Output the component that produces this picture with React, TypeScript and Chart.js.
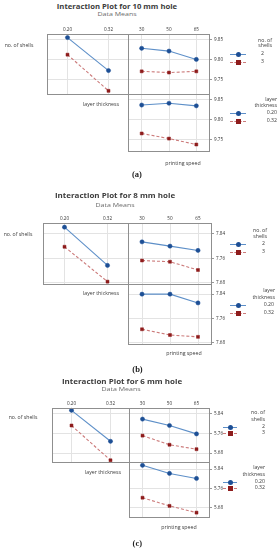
import React, { useEffect, useLayoutEffect, useRef, useState } from "react";
import { Chart, registerables } from "chart.js";
Chart.register(...registerables);

// ---------- data ----------
const layerLabels = ["0.20", "0.32"];
const speedLabels = ["30", "50", "65"];
const shellNames = ["2", "3"];
const layerNames = ["0.20", "0.32"];

// 10 mm hole
const a_shells2_vsLayer = [9.856, 9.773];
const a_shells3_vsLayer = [9.813, 9.722];
const a_shells2_vsSpeed = [9.829, 9.822, 9.801];
const a_shells3_vsSpeed = [9.771, 9.768, 9.771];
const a_layer020_vsSpeed = [9.837, 9.8415, 9.835];
const a_layer032_vsSpeed = [9.765, 9.752, 9.737];
const a_yTicks = [9.75, 9.8, 9.85];

// 8 mm hole
const b_shells2_vsLayer = [7.862, 7.737];
const b_shells3_vsLayer = [7.798, 7.684];
const b_shells2_vsSpeed = [7.814, 7.8, 7.786];
const b_shells3_vsSpeed = [7.753, 7.749, 7.722];
const b_layer020_vsSpeed = [7.84, 7.84, 7.811];
const b_layer032_vsSpeed = [7.724, 7.705, 7.699];
const b_yTicks = [7.68, 7.76, 7.84];

// 6 mm hole
const c_shells2_vsLayer = [5.8535, 5.728];
const c_shells3_vsLayer = [5.792, 5.651];
const c_shells2_vsSpeed = [5.818, 5.792, 5.758];
const c_shells3_vsSpeed = [5.751, 5.714, 5.696];
const c_layer020_vsSpeed = [5.8556, 5.822, 5.801];
const c_layer032_vsSpeed = [5.721, 5.687, 5.659];
const c_yTicks = [5.68, 5.76, 5.84];

// ---------- styles ----------
const BLUE_LINE = "#5d8fc8";
const BLUE_PT = "#1d4f95";
const RED_LINE = "#cc7b7b";
const RED_PT = "#8e1c1c";
const FONT = '"Open Sans", "DejaVu Sans", sans-serif';

type Area = { l: number; t: number; r: number; b: number };

const boxPlugin = {
  id: "box",
  afterDraw(chart: any) {
    const { ctx, chartArea: a } = chart;
    ctx.save();
    ctx.strokeStyle = "#8f8f8f";
    ctx.lineWidth = 1;
    ctx.strokeRect(
      Math.round(a.left) + 0.5,
      Math.round(a.top) + 0.5,
      Math.round(a.right - a.left) - 1,
      Math.round(a.bottom - a.top) - 1
    );
    ctx.restore();
  },
};

function zeroPad(s: any) {
  s.paddingTop = 0;
  s.paddingBottom = 0;
  s.paddingLeft = 0;
  s.paddingRight = 0;
}

function Panel(props: {
  area: Area;
  labels: string[];
  blue: number[];
  red: number[];
  yMin: number;
  yMax: number;
  yTicks: number[];
  showX: boolean;
  showY: boolean;
}) {
  const { area, labels, blue, red, yMin, yMax, yTicks, showX, showY } = props;
  const ref = useRef<HTMLCanvasElement>(null);
  const padL = 3;
  const padB = 3;
  const topH = showX ? 9 : 3;
  const rightW = showY ? 28 : 3;
  const l = Math.round(area.l);
  const t = Math.round(area.t);
  const r = Math.round(area.r);
  const b = Math.round(area.b);
  const W = r - l + 1 + padL + rightW;
  const H = b - t + 1 + topH + padB;

  useEffect(() => {
    const chart = new Chart(ref.current as HTMLCanvasElement, {
      type: "line",
      data: {
        labels,
        datasets: [
          {
            data: blue,
            borderColor: BLUE_LINE,
            borderWidth: 1.1,
            pointStyle: "circle",
            pointRadius: 2.1,
            pointBackgroundColor: BLUE_PT,
            pointBorderColor: BLUE_PT,
            pointBorderWidth: 0.5,
            clip: false,
          } as any,
          {
            data: red,
            borderColor: RED_LINE,
            borderWidth: 1.1,
            borderDash: [3, 2],
            pointStyle: "rect",
            pointRadius: 2.1,
            pointBackgroundColor: RED_PT,
            pointBorderColor: RED_PT,
            pointBorderWidth: 0.5,
            clip: false,
          } as any,
        ],
      },
      options: {
        responsive: false,
        animation: false,
        devicePixelRatio: 1,
        layout: { autoPadding: false, padding: { left: padL, bottom: padB, top: 0, right: 0 } },
        plugins: { legend: { display: false }, tooltip: { enabled: false } },
        scales: {
          x: {
            type: "category",
            position: "top",
            offset: true,
            grid: { color: "#e3e3e3", drawTicks: false, lineWidth: 1 },
            border: { display: false },
            ticks: {
              display: showX,
              font: { size: 4.6, family: FONT },
              color: "#333",
              padding: 1.5,
              maxRotation: 0,
              autoSkip: false,
            },
            afterFit: (s: any) => {
              s.height = topH;
              zeroPad(s);
            },
          },
          y: {
            type: "linear",
            position: "right",
            min: yMin,
            max: yMax,
            afterBuildTicks: (s: any) => {
              s.ticks = yTicks.map((v) => ({ value: v }));
            },
            grid: {
              color: "#e3e3e3",
              drawTicks: showY,
              tickLength: 2,
              tickColor: "#999",
            },
            border: { display: false },
            ticks: {
              display: showY,
              font: { size: 4.6, family: FONT },
              color: "#333",
              padding: 2,
              callback: (v: any) => Number(v).toFixed(2),
            },
            afterFit: (s: any) => {
              s.width = rightW;
              zeroPad(s);
            },
          },
        },
      } as any,
      plugins: [boxPlugin],
    });
    return () => chart.destroy();
  }, []);

  return (
    <canvas
      ref={ref}
      width={W}
      height={H}
      style={{ position: "absolute", left: l - padL, top: t - topH, width: W, height: H }}
    />
  );
}

function T(props: {
  x: number;
  y: number;
  text: string;
  size: number;
  weight?: number;
  color?: string;
  align?: "center" | "right" | "left";
  w?: number;
  family?: string;
}) {
  const { x, y, text, size, weight = 400, color = "#3a3a3a", align = "center", w, family } = props;
  const ref = useRef<HTMLSpanElement>(null);
  const [sx, setSx] = useState(1);
  useLayoutEffect(() => {
    if (w && ref.current) {
      const ow = ref.current.offsetWidth;
      if (ow > 0) setSx(w / ow);
    }
  }, [w, text, size]);
  const tx = align === "center" ? "-50%" : align === "right" ? "-100%" : "0";
  return (
    <span
      ref={ref}
      style={{
        position: "absolute",
        left: x,
        top: y,
        whiteSpace: "nowrap",
        fontSize: size,
        fontWeight: weight,
        color,
        fontFamily: family || FONT,
        lineHeight: 1,
        transform: `translate(${tx}, -50%) scaleX(${sx})`,
        transformOrigin: align,
      }}
    >
      {text}
    </span>
  );
}

function LegendBlock(props: {
  head: string[];
  items: string[];
  ys: number[];
  headRight: number;
  itemRight: number;
  lineL: number;
  lineR: number;
}) {
  const { head, items, ys, headRight, itemRight, lineL, lineR } = props;
  const mid = (lineL + lineR) / 2;
  return (
    <>
      <T x={headRight} y={ys[0]} text={head[0]} size={5.2} align="right" />
      <T x={headRight} y={ys[1]} text={head[1]} size={5.2} align="right" />
      {items.map((it, i) => {
        const y = ys[2 + i];
        const blue = i === 0;
        return (
          <React.Fragment key={i}>
            <div
              style={{
                position: "absolute",
                left: lineL,
                top: Math.round(y) - 0.5,
                width: lineR - lineL,
                height: 0,
                borderTop: blue ? `1px solid ${BLUE_LINE}` : `1px dashed ${RED_LINE}`,
              }}
            />
            <div
              style={{
                position: "absolute",
                left: mid - 2.5,
                top: Math.round(y) - 2.5,
                width: 5,
                height: 5,
                borderRadius: blue ? "50%" : 0,
                background: blue ? BLUE_PT : RED_PT,
              }}
            />
            <T x={itemRight} y={y} text={it} size={5.2} align="right" />
          </React.Fragment>
        );
      })}
    </>
  );
}

type Fig = {
  title: string;
  titleX: number;
  titleY: number;
  subX: number;
  subY: number;
  left: Area;
  rightTop: Area;
  rightBot: Area;
  topRange: [number, number];
  botRange: [number, number];
  yTicks: number[];
  s2L: number[];
  s3L: number[];
  s2S: number[];
  s3S: number[];
  l020: number[];
  l032: number[];
  shellsLab: [number, number];
  layerLab: [number, number];
  speedLab: [number, number];
  leg1Y: number[];
  leg2Y: number[];
  leg1HeadR: number;
  leg1ItemR: number;
  leg2HeadR: number;
  leg2ItemR: number;
  lineL: number;
  lineR: number;
  tag: string;
  tagX: number;
  tagY: number;
};

const figs: Fig[] = [
  {
    title: "Interaction Plot for 10 mm hole",
    titleX: 116.7,
    titleY: 6.8,
    subX: 116.5,
    subY: 15.4,
    left: { l: 47, t: 34, r: 128, b: 94 },
    rightTop: { l: 128, t: 34, r: 209, b: 94 },
    rightBot: { l: 128, t: 94, r: 209, b: 151 },
    topRange: [9.7115, 9.865],
    botRange: [9.718, 9.865],
    yTicks: a_yTicks,
    s2L: a_shells2_vsLayer,
    s3L: a_shells3_vsLayer,
    s2S: a_shells2_vsSpeed,
    s3S: a_shells3_vsSpeed,
    l020: a_layer020_vsSpeed,
    l032: a_layer032_vsSpeed,
    shellsLab: [19, 45],
    layerLab: [101, 104],
    speedLab: [182.5, 162.7],
    leg1Y: [40.7, 46.3, 53.5, 61.7],
    leg2Y: [99.5, 106.3, 113.3, 120.5],
    leg1HeadR: 272,
    leg1ItemR: 264,
    leg2HeadR: 277,
    leg2ItemR: 277,
    lineL: 230,
    lineR: 246,
    tag: "(a)",
    tagX: 137,
    tagY: 173.5,
  },
  {
    title: "Interaction Plot for 8 mm hole",
    titleX: 115.4,
    titleY: 195.7,
    subX: 115,
    subY: 205.7,
    left: { l: 43, t: 223, r: 128, b: 284 },
    rightTop: { l: 128, t: 223, r: 211, b: 284 },
    rightBot: { l: 128, t: 284, r: 211, b: 344 },
    topRange: [7.673, 7.8757],
    botRange: [7.672, 7.8736],
    yTicks: b_yTicks,
    s2L: b_shells2_vsLayer,
    s3L: b_shells3_vsLayer,
    s2S: b_shells2_vsSpeed,
    s3S: b_shells3_vsSpeed,
    l020: b_layer020_vsSpeed,
    l032: b_layer032_vsSpeed,
    shellsLab: [17.5, 234],
    layerLab: [101, 293.3],
    speedLab: [184, 353.3],
    leg1Y: [230.7, 236.7, 244.3, 252],
    leg2Y: [290.7, 297.7, 305.3, 312.7],
    leg1HeadR: 267,
    leg1ItemR: 265,
    leg2HeadR: 275,
    leg2ItemR: 274,
    lineL: 230,
    lineR: 246,
    tag: "(b)",
    tagX: 137.5,
    tagY: 369.3,
  },
  {
    title: "Interaction Plot for 6 mm hole",
    titleX: 121.7,
    titleY: 382.3,
    subX: 120.5,
    subY: 390,
    left: { l: 52, t: 408, r: 129, b: 462 },
    rightTop: { l: 129, t: 408, r: 209, b: 462 },
    rightBot: { l: 129, t: 462, r: 209, b: 517 },
    topRange: [5.64, 5.863],
    botRange: [5.6366, 5.8695],
    yTicks: c_yTicks,
    s2L: c_shells2_vsLayer,
    s3L: c_shells3_vsLayer,
    s2S: c_shells2_vsSpeed,
    s3S: c_shells3_vsSpeed,
    l020: c_layer020_vsSpeed,
    l032: c_layer032_vsSpeed,
    shellsLab: [22.5, 417.3],
    layerLab: [102.5, 471.7],
    speedLab: [178.7, 526.7],
    leg1Y: [413.3, 420, 426.7, 433.3],
    leg2Y: [468.3, 475, 481.7, 488.3],
    leg1HeadR: 265,
    leg1ItemR: 265,
    leg2HeadR: 265,
    leg2ItemR: 265,
    lineL: 223,
    lineR: 237,
    tag: "(c)",
    tagX: 137.3,
    tagY: 542.7,
  },
];

function Figure({ f }: { f: Fig }) {
  return (
    <>
      <T x={f.titleX} y={f.titleY} text={f.title} size={7.2} weight={700} color="#3c3c3c" w={120} />
      <T x={f.subX} y={f.subY} text="Data Means" size={5.6} color="#6a6a6a" w={39} />
      <Panel
        area={f.left}
        labels={layerLabels}
        blue={f.s2L}
        red={f.s3L}
        yMin={f.topRange[0]}
        yMax={f.topRange[1]}
        yTicks={f.yTicks}
        showX={true}
        showY={false}
      />
      <Panel
        area={f.rightTop}
        labels={speedLabels}
        blue={f.s2S}
        red={f.s3S}
        yMin={f.topRange[0]}
        yMax={f.topRange[1]}
        yTicks={f.yTicks}
        showX={true}
        showY={true}
      />
      <Panel
        area={f.rightBot}
        labels={speedLabels}
        blue={f.l020}
        red={f.l032}
        yMin={f.botRange[0]}
        yMax={f.botRange[1]}
        yTicks={f.yTicks}
        showX={false}
        showY={true}
      />
      <T x={f.shellsLab[0]} y={f.shellsLab[1]} text="no. of shells" size={4.8} w={29} />
      <T x={f.layerLab[0]} y={f.layerLab[1]} text="layer thickness" size={4.8} w={36} />
      <T x={f.speedLab[0]} y={f.speedLab[1]} text="printing speed" size={4.8} w={35} />
      <LegendBlock
        head={["no. of", "shells"]}
        items={shellNames}
        ys={f.leg1Y}
        headRight={f.leg1HeadR}
        itemRight={f.leg1ItemR}
        lineL={f.lineL}
        lineR={f.lineR}
      />
      <LegendBlock
        head={["layer", "thickness"]}
        items={layerNames}
        ys={f.leg2Y}
        headRight={f.leg2HeadR}
        itemRight={f.leg2ItemR}
        lineL={f.lineL}
        lineR={f.lineR}
      />
      <T
        x={f.tagX}
        y={f.tagY}
        text={f.tag}
        size={8.5}
        weight={700}
        color="#222"
        family='"Liberation Serif", "DejaVu Serif", serif'
      />
    </>
  );
}

export default function App() {
  return (
    <div
      style={{
        position: "absolute",
        left: 0,
        top: 0,
        width: 278,
        height: 550,
        background: "#fff",
        overflow: "hidden",
      }}
    >
      {figs.map((f, i) => (
        <Figure key={i} f={f} />
      ))}
    </div>
  );
}
